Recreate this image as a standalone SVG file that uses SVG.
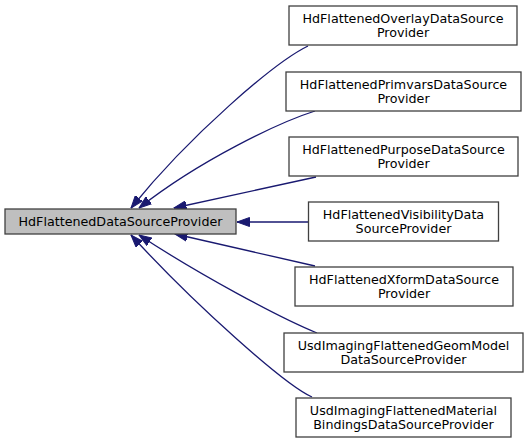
<svg xmlns="http://www.w3.org/2000/svg" width="528" height="444" viewBox="0 0 528 444">
<style>
.node rect{fill:#ffffff;stroke:#404040;stroke-width:1.3}
.node.base rect{fill:#bfbfbf}
.node text{font-family:"DejaVu Sans","Liberation Sans",sans-serif;font-size:12.7px;fill:#000000;text-anchor:middle}
.edges path{fill:none;stroke:#191970;stroke-width:1.3;marker-end:url(#arr)}
</style>
<defs>
<marker id="arr" markerUnits="userSpaceOnUse" markerWidth="13" markerHeight="10" refX="12.5" refY="4.5" orient="auto" viewBox="0 0 13 9">
<path d="M0,0 L12.5,4.5 L0,9 Z" fill="#191970" stroke="#191970" stroke-width="1"/>
</marker>
</defs>
<rect width="528" height="444" fill="#ffffff"/>
<g class="edges" id="edges">
<path d="M308,46 C275,62 190,135 131,208"/>
<path d="M315,111 C280,122 200,160 139,208"/>
<path d="M316,177 L174,208"/>
<path d="M308,222 L237,222"/>
<path d="M315,266 L175,234"/>
<path d="M317,333 C280,318 200,275 139,235"/>
<path d="M312,397 C285,385 195,305 131,235"/>
</g>
<g class="node base" id="node-base">
<rect x="5" y="209" width="231" height="25"/>
<text x="120.5" y="226">HdFlattenedDataSourceProvider</text>
</g>
<g class="node" id="node-overlay">
<rect x="289" y="6" width="228" height="39"/>
<text x="403" y="22.5">HdFlattenedOverlayDataSource</text>
<text x="403" y="36.5">Provider</text>
</g>
<g class="node" id="node-primvars">
<rect x="286" y="72" width="235" height="39"/>
<text x="403.5" y="88.5">HdFlattenedPrimvarsDataSource</text>
<text x="403.5" y="102.5">Provider</text>
</g>
<g class="node" id="node-purpose">
<rect x="289" y="137" width="229" height="39"/>
<text x="403.5" y="153.5">HdFlattenedPurposeDataSource</text>
<text x="403.5" y="167.5">Provider</text>
</g>
<g class="node" id="node-visibility">
<rect x="308.5" y="202" width="190" height="39"/>
<text x="403.5" y="218.5">HdFlattenedVisibilityData</text>
<text x="403.5" y="232.5">SourceProvider</text>
</g>
<g class="node" id="node-xform">
<rect x="295" y="267" width="218" height="39"/>
<text x="404" y="283.5">HdFlattenedXformDataSource</text>
<text x="404" y="297.5">Provider</text>
</g>
<g class="node" id="node-geommodel">
<rect x="284" y="333" width="239" height="39"/>
<text x="403.5" y="349.5">UsdImagingFlattenedGeomModel</text>
<text x="403.5" y="363.5">DataSourceProvider</text>
</g>
<g class="node" id="node-material">
<rect x="296" y="398" width="215" height="39"/>
<text x="403.5" y="414.5">UsdImagingFlattenedMaterial</text>
<text x="403.5" y="428.5">BindingsDataSourceProvider</text>
</g>
</svg>
